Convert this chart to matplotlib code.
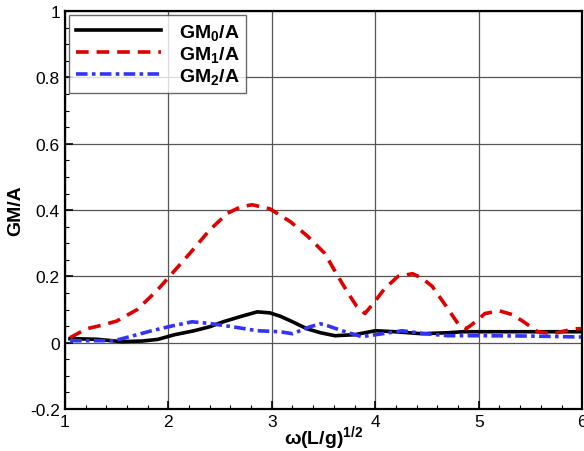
import matplotlib
matplotlib.use("Agg")
import matplotlib.pyplot as plt
from matplotlib.ticker import MultipleLocator

plt.rcParams['font.family'] = ['Liberation Sans', 'DejaVu Sans']
plt.rcParams['mathtext.fontset'] = 'custom'
plt.rcParams['mathtext.rm'] = 'Liberation Sans:bold'
plt.rcParams['mathtext.bf'] = 'Liberation Sans:bold'
plt.rcParams['mathtext.it'] = 'Liberation Sans:bold'

# GM0/A (black solid)
x0 = [1.05, 1.1, 1.32, 1.55, 1.75, 1.9, 2.06, 2.25, 2.4, 2.53, 2.7, 2.86, 2.98, 3.08, 3.18, 3.34, 3.47, 3.61,
      3.8, 4.0, 4.19, 4.45, 4.7, 4.85, 5.0, 5.3, 5.6, 5.8, 6.0]
y0 = [0.012, 0.012, 0.01, 0.003, 0.005, 0.01, 0.024, 0.036, 0.048, 0.063, 0.079, 0.093, 0.09, 0.08, 0.066, 0.042,
      0.03, 0.021, 0.024, 0.036, 0.033, 0.027, 0.03, 0.033, 0.033, 0.033, 0.033, 0.033, 0.033]

# GM1/A (red dashed)
x1 = [1.05, 1.08, 1.21, 1.35, 1.5, 1.7, 1.89, 2.04, 2.21, 2.4, 2.57, 2.7, 2.81, 2.98, 3.18, 3.35, 3.51, 3.64,
      3.74, 3.82, 3.9, 3.98, 4.09, 4.22, 4.36, 4.45, 4.55, 4.68, 4.8, 4.88, 4.98, 5.06, 5.2, 5.32, 5.42, 5.57,
      5.71, 5.84, 5.95, 6.0]
y1 = [0.015, 0.02, 0.042, 0.052, 0.065, 0.10, 0.157, 0.21, 0.27, 0.34, 0.39, 0.41, 0.416, 0.404, 0.365, 0.32,
      0.27, 0.20, 0.148, 0.11, 0.088, 0.118, 0.163, 0.2, 0.208, 0.195, 0.17, 0.112, 0.057, 0.042, 0.066, 0.088,
      0.096, 0.085, 0.066, 0.033, 0.027, 0.036, 0.042, 0.042]

# GM2/A (blue dash-dot)
x2 = [1.05, 1.1, 1.3, 1.48, 1.65, 1.84, 2.03, 2.23, 2.4, 2.62, 2.86, 3.08, 3.2, 3.37, 3.47, 3.54, 3.68, 3.87,
      4.07, 4.26, 4.48, 4.7, 5.0, 5.5, 6.0]
y2 = [0.006, 0.006, 0.006, 0.006, 0.02, 0.036, 0.05, 0.063, 0.058, 0.048, 0.036, 0.033, 0.027, 0.048, 0.057,
      0.051, 0.036, 0.018, 0.027, 0.036, 0.027, 0.021, 0.021, 0.02, 0.017]

fig = plt.figure(figsize=(5.84, 4.52), dpi=100)
ax = fig.add_axes([0.111, 0.093, 0.886, 0.880])

ax.plot(x0, y0, color='black', lw=2.6, label=r'GM$_0$/A')
ax.plot(x1, y1, color='#dd0000', lw=2.6, ls=(0, (3.5, 2.2)), label=r'GM$_1$/A')
ax.plot(x2, y2, color='#3333ff', lw=2.6, ls=(0, (3.2, 1.2, 1, 1.2)), label=r'GM$_2$/A')

ax.set_xlim(1, 6)
ax.set_ylim(-0.2, 1)
ax.xaxis.set_major_locator(MultipleLocator(1))
ax.xaxis.set_minor_locator(MultipleLocator(0.2))
ax.yaxis.set_minor_locator(MultipleLocator(0.05))
ax.set_yticks([-0.2, 0, 0.2, 0.4, 0.6, 0.8, 1])
ax.set_yticklabels(['-0.2', '0', '0.2', '0.4', '0.6', '0.8', '1'])
ax.tick_params(which='both', direction='in', labelsize=12.5)
ax.tick_params(which='major', length=6, width=1.2)
ax.tick_params(which='minor', length=3, width=0.8)
ax.grid(True, which='major', color='#555555', lw=0.9)
for s in ax.spines.values():
    s.set_linewidth(1.6)

ax.set_xlabel(r'$\mathregular{\omega}$(L/g)$^{1/2}$', fontsize=14, fontweight='bold')
ax.xaxis.set_label_coords(0.5, -0.035)
ax.set_ylabel('GM/A', fontsize=14, fontweight='bold', labelpad=4)

leg = ax.legend(loc='upper left', prop={'weight': 'bold', 'size': 14}, frameon=True, fancybox=False,
                edgecolor='#444444', handlelength=4.4, borderaxespad=0.2, labelspacing=0.1,
                borderpad=0.35, handletextpad=0.9)
leg.get_frame().set_linewidth(1.0)

fig.savefig('out.png', dpi=100)
